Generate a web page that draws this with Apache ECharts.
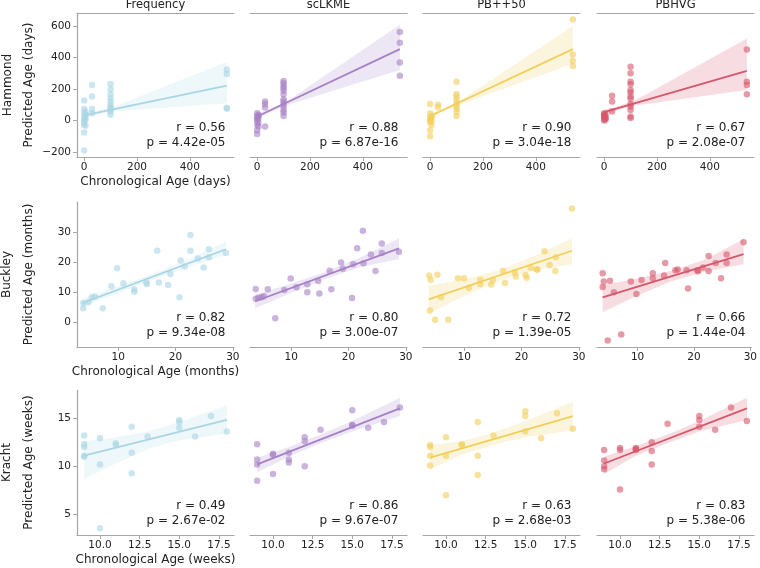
<!DOCTYPE html>
<html><head><meta charset="utf-8">
<script src="https://cdn.jsdelivr.net/npm/echarts@6/dist/echarts.min.js"></script>
<style>html,body{margin:0;padding:0;background:#fff}#c{width:760px;height:568px}</style>
</head><body><div id="c"></div>
<script>
// ---------- labels ----------
const methods = ['Frequency', 'scLKME', 'PB++50', 'PBHVG'];
const datasets = ['Hammond', 'Buckley', 'Kracht'];
const units = ['days', 'months', 'weeks'];

// ---------- tick labels ----------
const hammondXTicks = [0, 200, 400];
const hammondYTicks = [-200, 0, 200, 400, 600];
const buckleyXTicks = [10, 20, 30];
const buckleyYTicks = [0, 10, 20, 30];
const krachtXTicks = [10, 12.5, 15, 17.5];
const krachtYTicks = [5, 10, 15];

// ---------- stats ----------
const rHammond = ['0.56', '0.88', '0.90', '0.67'];
const pHammond = ['4.42e-05', '6.87e-16', '3.04e-18', '2.08e-07'];
const rBuckley = ['0.82', '0.80', '0.72', '0.66'];
const pBuckley = ['9.34e-08', '3.00e-07', '1.39e-05', '1.44e-04'];
const rKracht = ['0.49', '0.86', '0.63', '0.83'];
const pKracht = ['2.67e-02', '9.67e-07', '2.68e-03', '5.38e-06'];

// ---------- Hammond (days) ----------
const hammondFrequency = [[0,126],[0,72],[0,46],[5,57],[5,36],[0,15],[5,20],[0,0],[5,5],[0,-13],[0,-27],[5,-34],[0,-76],[0,-190],
  [30,225],[30,152],[30,72],[30,46],
  [100,232],[100,198],[100,166],[100,141],[100,120],[100,99],[100,84],[100,72],[100,57],[100,36],
  [540,324],[540,295],[540,80],[540,75]];
const hammondScLKME = [[0,46],[5,36],[0,25],[5,15],[0,10],[5,30],[0,0],[5,-13],[0,-27],[5,-38],[0,-63],[0,-86],
  [30,120],[30,105],[30,82],[30,-38],
  [100,250],[100,236],[100,219],[100,204],[100,189],[100,166],[100,135],[100,120],[100,105],[100,88],[100,67],[100,50],[100,29],
  [540,562],[540,493],[540,368],[540,284]];
const hammondPB50 = [[0,105],[0,46],[5,29],[5,20],[0,15],[0,5],[5,0],[0,-13],[5,-27],[0,-63],[0,-101],
  [30,99],[30,84],
  [100,246],[100,168],[100,152],[100,131],[100,109],[100,93],[100,74],[100,55],[100,29],
  [540,640],[540,419],[540,379],[540,345]];
const hammondPBHVG = [[0,46],[5,36],[0,40],[0,25],[5,20],[5,15],[0,10],[5,5],[0,0],[0,30],
  [30,156],[30,120],[30,57],
  [100,341],[100,299],[100,246],[100,229],[100,194],[100,177],[100,152],[100,137],[100,105],[100,88],[100,67],[100,25],[100,15],
  [540,450],[540,246],[540,225],[540,166]];

const hammondFrequencyFit = [[0,32],[540,221]];
const hammondScLKMEFit = [[0,25],[540,453]];
const hammondPB50Fit = [[0,28],[540,453]];
const hammondPBHVGFit = [[0,53],[540,314]];
// band rows: [x, lower, upper]
const hammondFrequencyBand = [[0,15,50],[60,42,64],[120,58,92],[540,109,373]];
const hammondScLKMEBand = [[0,10,40],[60,60,82],[120,102,130],[540,320,608]];
const hammondPB50Band = [[0,12,45],[60,62,85],[120,105,135],[540,360,600]];
const hammondPBHVGBand = [[0,35,70],[60,70,95],[120,95,130],[540,194,520]];

// ---------- Buckley (months) ----------
const buckleyFrequency = [[3.9,4.7],[3.9,6.4],[4.8,6.7],[5.4,8.3],[5.9,8.6],[7.3,4.7],[8.8,12.0],[9.8,18.0],[10.9,13.0],
  [12.8,10.9],[12.8,10.2],[14.9,13.3],[15.0,12.8],[16.8,23.9],[17.1,13.3],[18.7,12.4],[19.1,16.1],[20.7,8.3],
  [20.9,20.6],[21.6,18.6],[22.6,29.2],[22.6,23.9],[23.9,21.3],[24.9,18.3],[25.8,24.4],[25.8,21.7],[28.8,23.1]];
const buckleyScLKME = [[3.8,11.1],[3.8,7.8],[4.3,8.2],[4.8,8.3],[5.2,8.7],[5.9,11.0],[7.2,1.3],[8.8,10.8],[9.9,14.6],
  [10.9,11.7],[12.8,12.7],[12.8,10.0],[14.7,13.8],[14.9,9.6],[16.7,17.2],[17.0,11.0],[18.7,20.0],[19.0,17.9],
  [20.6,8.1],[20.8,19.4],[21.5,24.7],[22.5,30.6],[22.6,19.7],[23.9,22.6],[24.7,17.1],[25.8,26.3],[25.8,23.1],[28.8,23.6]];
const buckleyPB50 = [[3.9,15.6],[4.15,14.2],[5.3,15.9],[4.0,3.9],[4.9,0.8],[5.95,8.3],[7.2,0.8],[8.9,14.7],[9.95,14.7],
  [10.8,11.4],[12.8,14.2],[12.8,12.7],[14.7,12.6],[15.0,14.1],[16.8,17.1],[17.1,13.1],[18.8,16.7],[19.0,15.3],
  [20.7,15.8],[20.9,14.9],[21.6,18.2],[22.6,17.6],[22.8,17.6],[24.0,23.7],[24.9,19.1],[25.9,17.1],[26.0,21.7],[28.8,38.0]];
const buckleyPBHVG = [[3.8,16.4],[4.0,13.6],[3.8,11.8],[5.1,13.9],[5.8,10.0],[4.7,-6.1],[7.1,-4.1],[8.8,13.6],[9.8,9.4],
  [10.7,14.1],[12.7,16.4],[12.7,14.7],[14.7,15.6],[14.9,19.8],[16.7,17.4],[17.1,17.6],[18.7,17.4],[18.95,11.3],
  [20.6,17.4],[20.7,17.0],[21.6,18.3],[22.6,22.1],[22.6,17.1],[23.85,19.8],[24.8,14.7],[25.8,22.6],[25.8,19.8],[28.8,26.7]];

const buckleyFrequencyFit = [[3.7,6.4],[28.8,24.4]];
const buckleyScLKMEFit = [[3.7,7.0],[28.8,24.7]];
const buckleyPB50Fit = [[3.8,7.6],[28.8,23.9]];
const buckleyPBHVGFit = [[3.8,8.3],[28.8,22.8]];
const buckleyFrequencyBand = [[3.7,5.2,7.8],[10,9.7,12.0],[16,14.2,16.2],[22,18.3,20.8],[28.8,22.4,26.9]];
const buckleyScLKMEBand = [[3.7,4.7,9.1],[10,9.8,12.9],[16,14.5,16.9],[22,18.4,21.6],[28.8,21.1,28.1]];
const buckleyPB50Band = [[3.8,2.8,12.2],[10,8.8,14.3],[16,13.8,17.4],[22,17.2,22.0],[28.8,19.4,28.1]];
const buckleyPBHVGBand = [[3.8,3.3,12.4],[10,8.9,14.6],[16,13.7,17.2],[22,16.9,21.0],[28.8,19.4,27.8]];

// ---------- Kracht (weeks) ----------
const krachtFrequency = [[9,13.2],[9,12.3],[9,12.0],[9,11.1],[9,11.0],[10,12.9],[10,10.2],[10,3.6],[11,12.4],[11,12.2],
  [12,14.1],[12,11.4],[12,9.3],[13,13.1],[15,14.8],[15,14.6],[15,14.0],[16,13.1],[17,15.2],[18,13.6]];
const krachtScLKME = [[9,12.3],[9,10.7],[9,10.2],[9,8.5],[10,11.3],[10,11.2],[10,9.2],[11,11.4],[11,10.7],[11,10.4],
  [12,13.0],[12,12.6],[12,10.0],[13,13.8],[15,15.8],[15,14.3],[15,14.2],[16,14.0],[17,14.6],[18,16.1]];
const krachtPB50 = [[9,12.2],[9,12.0],[9,11.1],[9,10.1],[10,13.0],[10,11.1],[10,7.0],[11,12.3],[11,12.2],
  [12,14.6],[12,11.1],[12,9.1],[13,13.2],[15,15.7],[15,15.2],[15,13.6],[16,12.9],[17,15.5],[18,13.9]];
const krachtPBHVG = [[9,11.7],[9,10.6],[9,10.0],[9,9.7],[10,11.9],[10,11.7],[10,7.6],[11,11.9],[11,11.8],[11,11.7],
  [12,12.5],[12,11.6],[12,10.2],[13,14.4],[15,15.2],[15,14.8],[15,14.1],[16,13.8],[17,16.1],[18,14.7]];

const krachtFrequencyFit = [[9,11.1],[18,14.8]];
const krachtScLKMEFit = [[9,10.2],[18,16.0]];
const krachtPB50Fit = [[9,10.9],[18,15.2]];
const krachtPBHVGFit = [[9,10.3],[18,16.0]];
const krachtFrequencyBand = [[9,8.7,12.6],[11,10.3,13.0],[13,11.8,13.6],[15,12.7,14.6],[18,13.4,16.3]];
const krachtScLKMEBand = [[9,9.4,10.9],[11,11.0,12.0],[13,12.4,13.3],[15,13.6,14.7],[18,15.2,17.1]];
const krachtPB50Band = [[9,9.7,12.2],[11,11.2,12.6],[13,12.2,13.5],[15,13.0,14.7],[18,13.7,16.7]];
const krachtPBHVGBand = [[9,9.2,11.0],[11,11.1,12.1],[13,12.4,13.3],[15,13.6,14.7],[18,14.8,17.1]];

// ---------- assemble ----------
const colors = ['#a9d6e5', '#a681c6', '#f2cf5a', '#d6566b'];
const font = '"DejaVu Sans", sans-serif';
const spine = '#a6a6a6';
const colLeft = [77, 250, 423, 597];
const rowTop = [13, 202, 390];
const rowH = [144, 145, 145];
const panelW = 157;

const rows = [
  { pts: [hammondFrequency, hammondScLKME, hammondPB50, hammondPBHVG],
    fit: [hammondFrequencyFit, hammondScLKMEFit, hammondPB50Fit, hammondPBHVGFit],
    band: [hammondFrequencyBand, hammondScLKMEBand, hammondPB50Band, hammondPBHVGBand],
    xr: [-27, 567], yr: [-232, 682], xt: hammondXTicks, yt: hammondYTicks, r: rHammond, p: pHammond,
    xf: v => String(v) },
  { pts: [buckleyFrequency, buckleyScLKME, buckleyPB50, buckleyPBHVG],
    fit: [buckleyFrequencyFit, buckleyScLKMEFit, buckleyPB50Fit, buckleyPBHVGFit],
    band: [buckleyFrequencyBand, buckleyScLKMEBand, buckleyPB50Band, buckleyPBHVGBand],
    xr: [2.8, 30.2], yr: [-8.3, 40.2], xt: buckleyXTicks, yt: buckleyYTicks, r: rBuckley, p: pBuckley,
    xf: v => String(v) },
  { pts: [krachtFrequency, krachtScLKME, krachtPB50, krachtPBHVG],
    fit: [krachtFrequencyFit, krachtScLKMEFit, krachtPB50Fit, krachtPBHVGFit],
    band: [krachtFrequencyBand, krachtScLKMEBand, krachtPB50Band, krachtPBHVGBand],
    xr: [8.55, 18.45], yr: [2.9, 17.9], xt: krachtXTicks, yt: krachtYTicks, r: rKracht, p: pKracht,
    xf: v => Number(v).toFixed(1) }
];

const grid = [], xAxis = [], yAxis = [], series = [], graphic = [];
const minus = v => String(v).replace('-', '\u2212');

rows.forEach((row, r) => {
  for (let c = 0; c < 4; c++) {
    const g = r * 4 + c;
    grid.push({ left: colLeft[c], top: rowTop[r], width: panelW, height: rowH[r] });
    xAxis.push({
      type: 'value', gridIndex: g, min: row.xr[0], max: row.xr[1],
      axisLine: { show: true, onZero: false, lineStyle: { color: spine, width: 1.2 } },
      axisTick: { show: true, length: 4, customValues: row.xt, lineStyle: { color: spine, width: 1 } },
      axisLabel: { show: true, customValues: row.xt, formatter: row.xf, fontSize: 10.5, color: '#222', margin: 5, fontFamily: font },
      splitLine: { show: false },
      name: c === 0 ? 'Chronological Age (' + units[r] + ')' : '',
      nameLocation: 'middle', nameGap: 19,
      nameTextStyle: { fontSize: 12, color: '#222', fontFamily: font }
    });
    yAxis.push({
      type: 'value', gridIndex: g, min: row.yr[0], max: row.yr[1],
      axisLine: { show: c === 0, onZero: false, lineStyle: { color: spine, width: 1.2 } },
      axisTick: { show: c === 0, length: 4, customValues: row.yt, lineStyle: { color: spine, width: 1 } },
      axisLabel: { show: c === 0, customValues: row.yt, formatter: minus, fontSize: 10.5, color: '#222', margin: 6, fontFamily: font },
      splitLine: { show: false }
    });
    const band = row.band[c];
    const col = colors[c];
    series.push({
      type: 'custom', xAxisIndex: g, yAxisIndex: g, silent: true, z: 1,
      data: [[band[0][0], band[0][1]]],
      renderItem: function (params, api) {
        const up = band.map(b => api.coord([b[0], b[2]]));
        const lo = band.slice().reverse().map(b => api.coord([b[0], b[1]]));
        return { type: 'polygon', shape: { points: up.concat(lo) }, style: { fill: col, opacity: 0.2 } };
      }
    });
    series.push({
      type: 'scatter', xAxisIndex: g, yAxisIndex: g, data: row.pts[c], symbolSize: 6.5, z: 2, silent: true,
      itemStyle: { color: col, opacity: 0.6 }
    });
    series.push({
      type: 'line', xAxisIndex: g, yAxisIndex: g, data: row.fit[c], showSymbol: false, z: 3, silent: true,
      lineStyle: { color: col, width: 1.8 }
    });
    // stats text
    const xr = colLeft[c] + panelW - 8.5;
    const yb = rowTop[r] + rowH[r];
    graphic.push({ type: 'text', x: xr, y: yb - 29, silent: true,
      style: { text: 'r = ' + row.r[c], fill: '#222', fontSize: 12, fontFamily: font, align: 'right', verticalAlign: 'middle' } });
    graphic.push({ type: 'text', x: xr, y: yb - 14, silent: true,
      style: { text: 'p = ' + row.p[c], fill: '#222', fontSize: 12, fontFamily: font, align: 'right', verticalAlign: 'middle' } });
  }
  // row labels
  const yc = rowTop[r] + rowH[r] / 2;
  graphic.push({ type: 'text', x: r === 0 ? 8 : 7, y: yc, rotation: Math.PI / 2, silent: true,
    style: { text: datasets[r], fill: '#222', fontSize: 12, fontFamily: font, align: 'center', verticalAlign: 'middle' } });
  graphic.push({ type: 'text', x: 29, y: yc, rotation: Math.PI / 2, silent: true,
    style: { text: 'Predicted Age (' + units[r] + ')', fill: '#222', fontSize: 12, fontFamily: font, align: 'center', verticalAlign: 'middle' } });
});

// top spines on first row
for (let c = 0; c < 4; c++) {
  xAxis.push({
    type: 'value', gridIndex: c, position: 'top', min: rows[0].xr[0], max: rows[0].xr[1],
    axisLine: { show: true, onZero: false, lineStyle: { color: spine, width: 1.2 } },
    axisTick: { show: false }, axisLabel: { show: false }, splitLine: { show: false }
  });
  graphic.push({ type: 'text', x: colLeft[c] + panelW / 2, y: 5.5, silent: true,
    style: { text: methods[c], fill: '#222', fontSize: 11.5, fontFamily: font, align: 'center', verticalAlign: 'middle' } });
}

const chart = echarts.init(document.getElementById('c'), null, { renderer: 'canvas' });
chart.setOption({ animation: false, backgroundColor: '#fff', grid, xAxis, yAxis, series, graphic });
</script>
</body></html>
